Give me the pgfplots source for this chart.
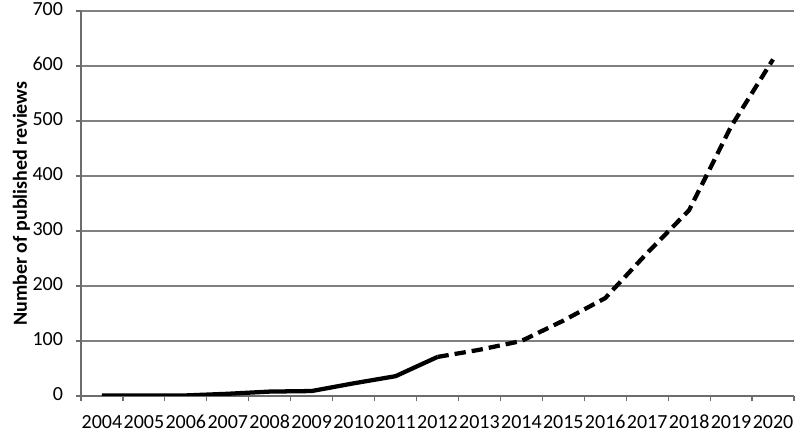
\documentclass[border=0pt]{standalone}
\usepackage{fontspec}
\setmainfont{Carlito}
\usepackage{pgfplots}
\pgfplotsset{compat=1.18}
\pgfplotstableread{
x y
0 1
1 1
2 1
3 4
4 8
5 9
6 23
7 36
8 71
}\solid
\pgfplotstableread{
x y
8 71
9 84
10 100
11 137
12 178
13 260
14 338
15 490
16 612
}\dashed
\begin{document}
\begin{tikzpicture}
\begin{axis}[
    scale only axis,
    width=534.75pt, height=288.75pt,
    xmin=-0.5, xmax=16.5,
    ymin=0, ymax=700,
    axis lines*=left,
    axis line style={draw=gray!85!black, line width=0.9pt},
    xtick={0,...,16},
    xticklabels={2004,2005,2006,2007,2008,2009,2010,2011,2012,2013,2014,2015,2016,2017,2018,2019,2020},
    major x tick style={draw=none},
    minor xtick={-0.5,0.5,...,16.5},
    minor x tick style={draw=gray!85!black, line width=0.9pt},
    minor tick length=4pt,
    ytick={0,100,...,700},
    major tick length=4pt,
    y tick style={draw=gray!85!black, line width=0.9pt},
    tick align=outside,
    ymajorgrids=true,
    grid style={draw=gray, line width=0.9pt},
    tick label style={font=\fontsize{15}{17}\selectfont, text=black},
    /pgf/number format/assume math mode=true,
    typeset ticklabels with strut,
    xticklabel style={inner xsep=0pt, yshift=-5pt},
    yticklabel style={xshift=-6pt},
    ylabel={\bfseries Number of published reviews},
    ylabel style={font=\fontsize{15}{17}\selectfont, at={(axis description cs:-0.0837,0.5)}, anchor=center},
]
\addplot[black, line width=3.2pt, line join=round] table[x=x, y=y] {\solid};
\addplot[black, line width=3.2pt, line join=round, dash pattern=on 8.5pt off 4.5pt] table[x=x, y=y] {\dashed};
\end{axis}
\pgfresetboundingbox
\path[use as bounding box] ([xshift=-60.75pt, yshift=-30pt]current axis.south west) rectangle ([xshift=4.5pt, yshift=8.25pt]current axis.north east);
\end{tikzpicture}
\end{document}
